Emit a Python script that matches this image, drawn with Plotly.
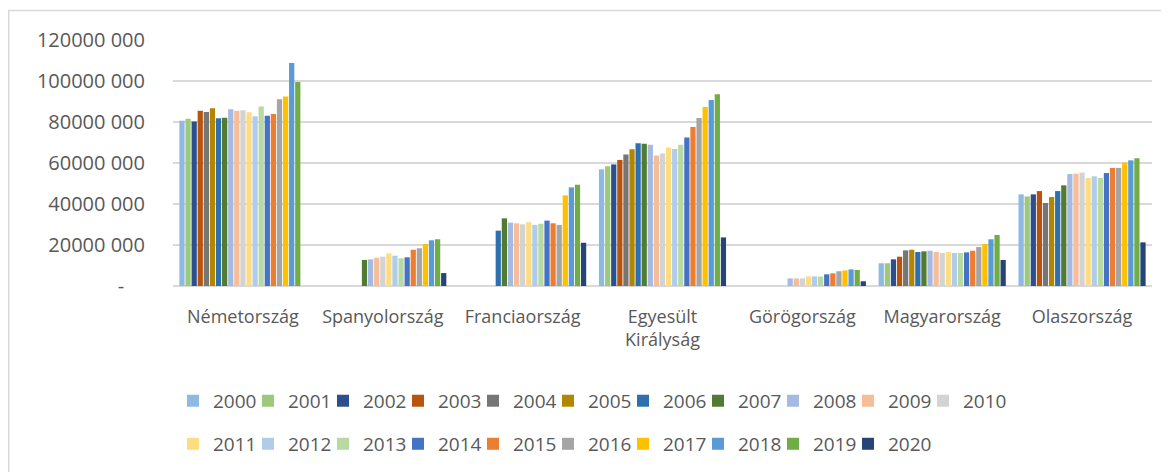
import plotly.graph_objects as go

# Categories (countries) and series (years)
countries = ['Németország', 'Spanyolország', 'Franciaország', 'Egyesült<br>Királyság',
             'Görögország', 'Magyarország', 'Olaszország']
years = [str(y) for y in range(2000, 2021)]

# Values per country, 2000..2020 (None = no data)
germany = [80600000, 81600000, 80300000, 85500000, 84900000, 86700000, 81800000,
           82100000, 86200000, 85500000, 85700000, 84700000, 82800000, 87500000,
           83100000, 83900000, 91100000, 92400000, 108800000, 99500000, None]
spain = [None, None, None, None, None, None, None,
         12700000, 13000000, 13800000, 14300000, 15900000, 14800000, 13500000,
         14000000, 17700000, 18400000, 20500000, 22300000, 22800000, 6300000]
france = [None, None, None, None, None, None, 27000000,
          33000000, 30900000, 30600000, 30100000, 31100000, 29800000, 30400000,
          31900000, 30600000, 29800000, 44200000, 48100000, 49400000, 21100000]
uk = [56900000, 58400000, 59300000, 61500000, 64200000, 66700000, 69600000,
      69400000, 68900000, 63600000, 64600000, 67500000, 66800000, 68900000,
      72400000, 77600000, 82000000, 87300000, 90700000, 93500000, 23700000]
greece = [None, None, None, None, None, None, None, None,
          3700000, 3700000, 3700000, 4700000, 4700000, 4600000,
          5700000, 6200000, 7200000, 7600000, 8100000, 7800000, 2300000]
hungary = [11100000, 11100000, 13000000, 14300000, 17400000, 17700000, 16600000,
           16900000, 17200000, 16600000, 16100000, 16600000, 16100000, 16100000,
           16400000, 17200000, 19000000, 20500000, 22800000, 24900000, 12700000]
italy = [44700000, 43700000, 44700000, 46300000, 40500000, 43400000, 46300000,
         49100000, 54600000, 54800000, 55300000, 52700000, 53500000, 52700000,
         55100000, 57600000, 57600000, 60200000, 61300000, 62300000, 21300000]

country_values = [germany, spain, france, uk, greece, hungary, italy]

# Y axis ticks
y_tickvals = [0, 20000000, 40000000, 60000000, 80000000, 100000000, 120000000]
y_ticktext = ['-\u00a0\u00a0\u00a0\u00a0', '20000 000', '40000 000', '60000 000',
              '80000 000', '100000 000', '120000 000']

colors = ['#8EB9E2', '#9CCA7A', '#2E4F8E', '#B9540F', '#767676', '#B28600', '#2E6FAE',
          '#517B32', '#A4BAE2', '#F7BD98', '#D3D3D3', '#FFDC80', '#AFCDEA', '#B8DAA2',
          '#4472C4', '#ED7D31', '#A5A5A5', '#FFC000', '#5B9BD5', '#70AD47', '#264478']

FONT = 'Open Sans'
TEXT = '#595959'

fig = go.Figure()
for i, year in enumerate(years):
    fig.add_trace(go.Bar(
        x=countries,
        y=[vals[i] for vals in country_values],
        name=year,
        marker=dict(color=colors[i], line=dict(width=0)),
        legend='legend' if i <= 10 else 'legend2',
    ))

# invisible spacer entries so the last real legend item is not clipped
for leg in ['legend', 'legend2']:
    fig.add_trace(go.Scatter(
        x=[None], y=[None], mode='markers', name=' ',
        marker=dict(color='rgba(0,0,0,0)', size=1),
        legend=leg, hoverinfo='skip',
    ))

legend_common = dict(
    orientation='h',
    entrywidth=30,
    entrywidthmode='pixels',
    xanchor='left',
    yanchor='middle',
    x=0.0,
    font=dict(family=FONT, size=19, color=TEXT),
    bgcolor='rgba(0,0,0,0)',
    itemclick=False,
    traceorder='normal',
)

# page body adds an 8px offset, so the figure is sized to fill the rest
fig.update_layout(
    width=1161,
    height=464,
    autosize=False,
    margin=dict(l=165, r=17, t=32, b=186, autoexpand=False),
    paper_bgcolor='white',
    plot_bgcolor='white',
    barmode='group',
    bargap=0.085,
    bargroupgap=0.14,
    font=dict(family=FONT, color=TEXT),
    legend=dict(y=-0.467, **legend_common),
    legend2=dict(y=-0.642, **legend_common),
    xaxis=dict(
        tickangle=0,
        tickfont=dict(family=FONT, size=18, color=TEXT),
        showgrid=False,
        showline=False,
        ticks='',
        ticklabelstandoff=18,
    ),
    yaxis=dict(
        range=[0, 120000000],
        tickvals=y_tickvals,
        ticktext=y_ticktext,
        tickfont=dict(family=FONT, size=20, color=TEXT),
        showgrid=True,
        gridcolor='#D9D9D9',
        gridwidth=1.5,
        zeroline=True,
        zerolinecolor='#D9D9D9',
        zerolinewidth=1.5,
        showline=False,
        ticks='',
        ticklabelstandoff=27,
    ),
    shapes=[dict(
        type='rect', xref='paper', yref='paper',
        x0=-0.1678, x1=1.05, y0=-0.8, y1=1.12,
        line=dict(color='#D9D9D9', width=1.5),
        fillcolor='rgba(0,0,0,0)', layer='below',
    )],
)

fig.write_html('out.html')
